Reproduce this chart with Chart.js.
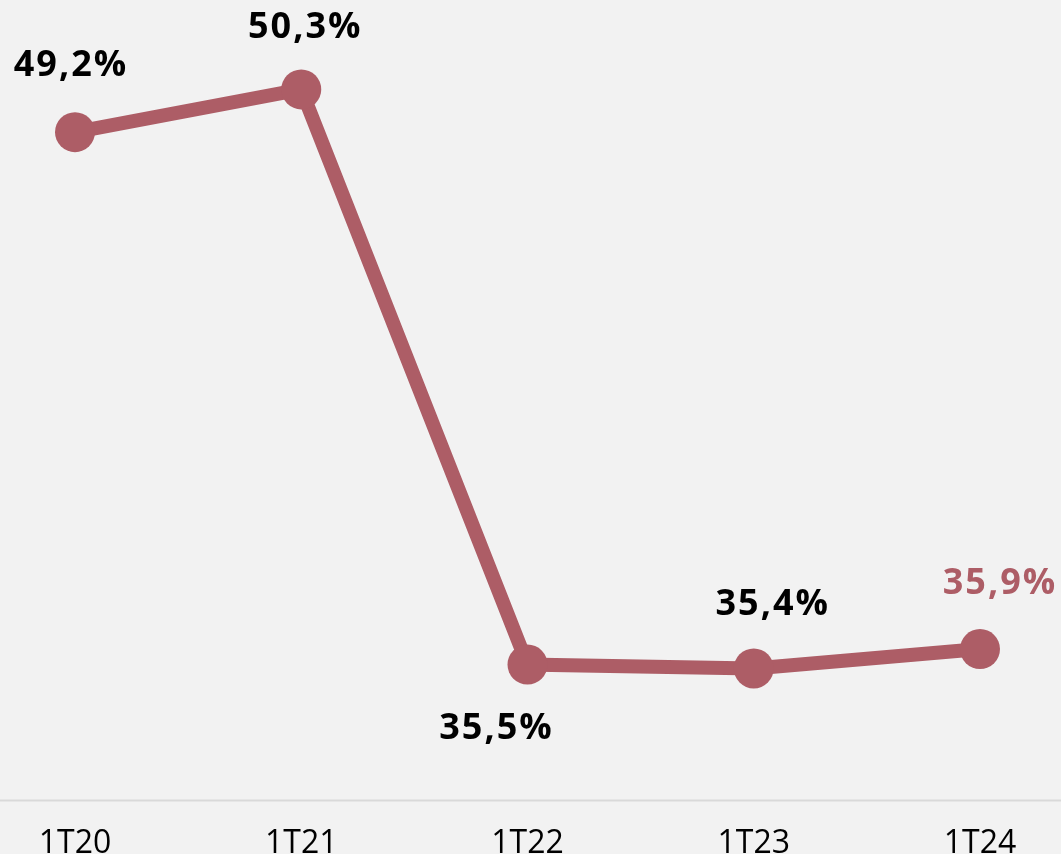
<!DOCTYPE html>
<html>
<head>
<meta charset="utf-8">
<script src="https://cdn.jsdelivr.net/npm/chart.js@4"></script>
<style>
  html, body { margin: 0; padding: 0; background: #f2f2f2; overflow: hidden; }
  #wrap { width: 1061px; height: 879px; }
</style>
</head>
<body>
<div id="wrap"><canvas id="chart" width="1061" height="879"></canvas></div>
<script>
// data
const quarters = ['1T20', '1T21', '1T22', '1T23', '1T24'];
const shareValues = [49.2, 50.3, 35.5, 35.4, 35.9];
const valueLabels = ['49,2%', '50,3%', '35,5%', '35,4%', '35,9%'];

const LINE_COLOR = '#ad5d66';
const FONT = "'Open Sans', sans-serif";

// label placement relative to each point (dx, dy), and colour
const labelOffsets = [[-4, -66], [4, -62], [-31, 64], [19, -64], [20, -65]];
const labelColors = ['#000', '#000', '#000', '#000', LINE_COLOR];

const pointLabels = {
  id: 'pointLabels',
  afterDatasetsDraw(chart) {
    const ctx = chart.ctx;
    const meta = chart.getDatasetMeta(0);
    ctx.save();
    ctx.font = "700 36px " + FONT;
    ctx.letterSpacing = '2px';
    ctx.textAlign = 'center';
    ctx.textBaseline = 'middle';
    meta.data.forEach((pt, i) => {
      ctx.fillStyle = labelColors[i];
      ctx.fillText(valueLabels[i], pt.x + labelOffsets[i][0], pt.y + labelOffsets[i][1]);
    });
    ctx.restore();
  }
};

// baseline across the full width
const baseLine = {
  id: 'baseLine',
  beforeDatasetsDraw(chart) {
    const ctx = chart.ctx;
    const y = chart.chartArea.bottom;
    ctx.save();
    ctx.strokeStyle = '#d9d9d9';
    ctx.lineWidth = 2;
    ctx.beginPath();
    ctx.moveTo(0, y);
    ctx.lineTo(chart.width, y);
    ctx.stroke();
    ctx.restore();
  }
};

new Chart(document.getElementById('chart'), {
  type: 'line',
  data: {
    labels: quarters,
    datasets: [{
      data: shareValues,
      borderColor: LINE_COLOR,
      backgroundColor: LINE_COLOR,
      borderWidth: 14,
      pointRadius: 20,
      pointHoverRadius: 20,
      pointBackgroundColor: LINE_COLOR,
      pointBorderWidth: 0,
      tension: 0
    }]
  },
  options: {
    responsive: false,
    animation: false,
    layout: { autoPadding: false, padding: { left: 75, right: 81, top: 0, bottom: 0 } },
    plugins: { legend: { display: false }, tooltip: { enabled: false } },
    scales: {
      x: {
        grid: { display: false },
        border: { display: false },
        ticks: { color: '#000', padding: 16, font: { family: FONT, size: 32 } }
      },
      y: { display: false, min: 32, max: 52.6 }
    }
  },
  plugins: [baseLine, pointLabels]
});
</script>
</body>
</html>
